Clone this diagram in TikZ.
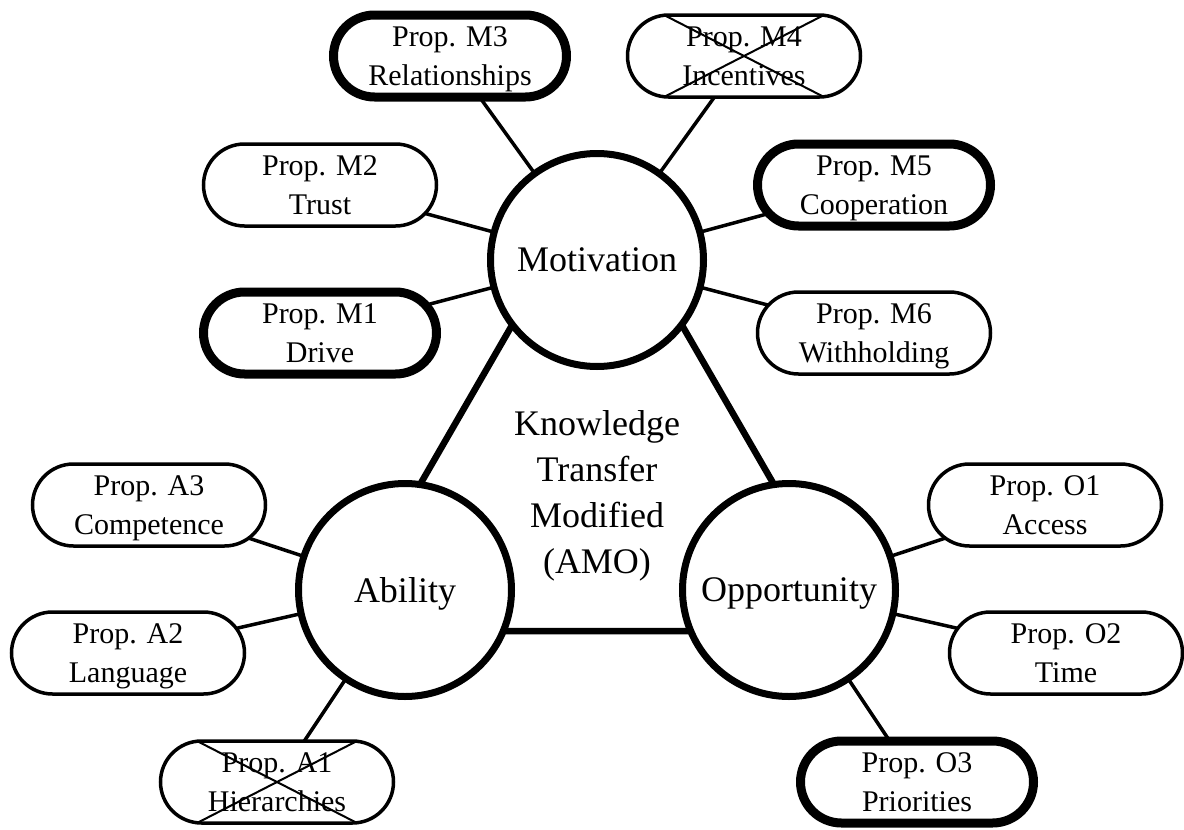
\documentclass[tikz,border=0pt]{standalone}
\usepackage{fontspec}
\setmainfont{Liberation Serif}
\usetikzlibrary{calc,backgrounds}
\begin{document}
\begin{tikzpicture}[x=1pt,y=-1pt,
  hub/.style={circle, draw, fill=white, line width=7pt, minimum size=213pt,
    inner sep=0pt, text depth=0pt, font=\fontsize{36}{43}\selectfont},
  pill/.style={rectangle, rounded corners=41pt, draw, fill=white, line width=3.5pt,
    minimum width=233pt, minimum height=82pt, inner sep=0pt, align=center,
    font=\fontsize{30}{39}\selectfont,
    execute at begin node={\rule{0pt}{66pt}},
    execute at end node={\rule[-7pt]{0pt}{7pt}}},
  keypill/.style={pill, line width=9pt},
  centretext/.style={align=center, inner sep=0pt, font=\fontsize{36}{46}\selectfont},
  spoke/.style={line width=3.5pt},
  frame/.style={line width=6.5pt},
  strike/.style={line width=2pt}]
\useasboundingbox (0,0) rectangle (1184,830);

% the three AMO dimensions
\node[hub] (mot) at (597,260) {Motivation};
\node[hub] (abl) at (405,590) {Ability};
\node[hub] (opp) at (789,590) {Opportunity};
\node[centretext] (kt) at (597,496) {Knowledge\\Transfer\\Modified\\(AMO)};

% propositions
\node[keypill] (m3) at (450,56)  {Prop. M3\\Relationships};
\node[pill]    (m4) at (744,56)  {Prop. M4\\Incentives};
\node[pill]    (m2) at (320,185) {Prop. M2\\Trust};
\node[keypill] (m5) at (874,185) {Prop. M5\\Cooperation};
\node[keypill] (m1) at (320,333) {Prop. M1\\Drive};
\node[pill]    (m6) at (874,333) {Prop. M6\\Withholding};
\node[pill]    (a3) at (149,505) {Prop. A3\\Competence};
\node[pill]    (a2) at (128,653) {Prop. A2\\Language};
\node[pill]    (a1) at (277,782) {Prop. A1\\Hierarchies};
\node[pill]    (o1) at (1045,505) {Prop. O1\\Access};
\node[pill]    (o2) at (1066,653) {Prop. O2\\Time};
\node[keypill] (o3) at (917,782) {Prop. O3\\Priorities};

\begin{scope}[on background layer]
  % triangle joining the dimensions
  \draw[frame] ($(mot.center)+(0,-82)$) -- ($(abl.center)+(-69.5,41)$)
    -- ($(opp.center)+(69.5,41)$) -- cycle;
  % spokes to the propositions
  \foreach \p in {m1,m2,m3,m4,m5,m6} \draw[spoke] (mot.center) -- (\p.center);
  \foreach \p in {a1,a2,a3} \draw[spoke] (abl.center) -- (\p.center);
  \foreach \p in {o1,o2,o3} \draw[spoke] (opp.center) -- (\p.center);
\end{scope}

% rejected propositions are struck through
\foreach \p in {m4,a1} {
  \draw[strike] ($(\p.center)+(-80,-41)$) -- ($(\p.center)+(80,41)$);
  \draw[strike] ($(\p.center)+(-80,41)$) -- ($(\p.center)+(80,-41)$);
}
\end{tikzpicture}
\end{document}
